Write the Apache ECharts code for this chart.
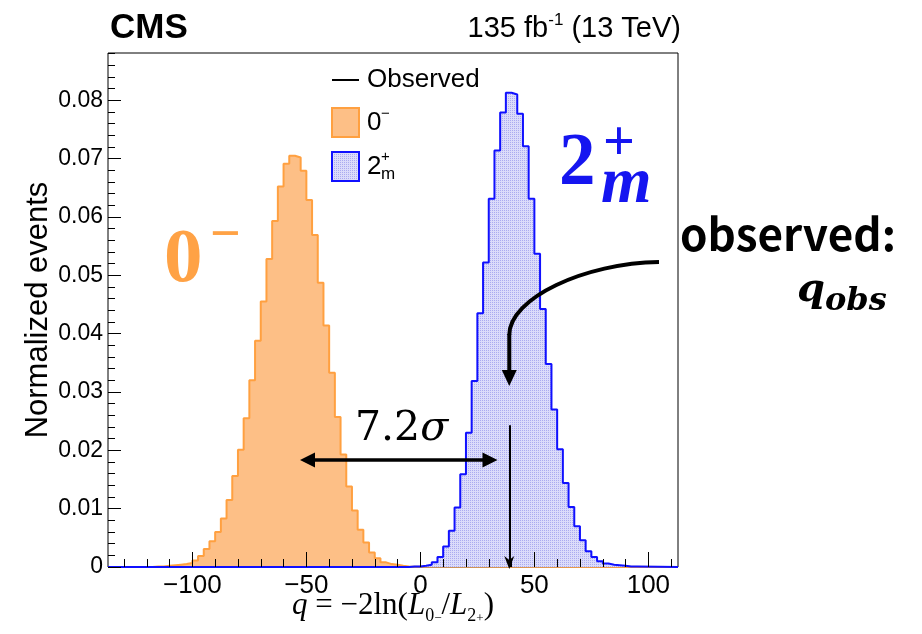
<!DOCTYPE html>
<html>
<head>
<meta charset="utf-8">
<script src="https://cdn.jsdelivr.net/npm/echarts@6/dist/echarts.min.js"></script>
<style>
html,body{margin:0;padding:0;background:#fff;}
#c{width:922px;height:634px;}
</style>
</head>
<body>
<div id="c"></div>
<script>
// ---------------- data ----------------
const binWidth = 2.5;
const pseudoScalarStart = -117.5;   // left edge of first listed 0- bin
const pseudoScalarValues = [0.0001,0.0001,0.0002,0.0003,0.0004,0.0005,0.0007,0.0011,0.0019,0.0031,
  0.0044,0.0060,0.0083,0.0115,0.0156,0.0201,0.0255,0.0320,0.0388,0.0455,
  0.0528,0.0593,0.0652,0.0691,0.0705,0.0702,0.0679,0.0629,0.0569,0.0487,
  0.0414,0.0333,0.0257,0.0193,0.0138,0.0097,0.0064,0.0042,0.0025,0.0015,
  0.0008,0.0005,0.0004,0.0002,0.0001];
const spin2Start = -5;              // left edge of first listed 2m+ bin
const spin2Values = [0.0001,0.0001,0.0002,0.0004,0.0008,0.0017,0.0035,0.0062,0.0102,0.0159,
  0.0230,0.0319,0.0435,0.0522,0.0631,0.0714,0.0779,0.0813,0.0810,0.0777,
  0.0721,0.0631,0.0537,0.0442,0.0348,0.0270,0.0202,0.0144,0.0103,0.0070,
  0.0046,0.0027,0.0017,0.0010,0.0006,0.0004,0.0003,0.0002,0.0001,0.0001];
const qObserved = 39;
const observedLineTop = 0.0243;
const xMin = -137, xMax = 113;
const yMin = 0, yMax = 0.0881;
const xMajorTicks = [-100, -50, 0, 50, 100];
const xMinorTicks = [-130,-120,-110,-90,-80,-70,-60,-40,-30,-20,-10,10,20,30,40,60,70,80,90,110];
const yMajorTicks = [0, 0.01, 0.02, 0.03, 0.04, 0.05, 0.06, 0.07, 0.08];
const yMinorTicks = [0.002,0.004,0.006,0.008,0.012,0.014,0.016,0.018,0.022,0.024,0.026,0.028,
  0.032,0.034,0.036,0.038,0.042,0.044,0.046,0.048,0.052,0.054,0.056,0.058,0.062,0.064,0.066,0.068,
  0.072,0.074,0.076,0.078,0.082,0.084,0.086,0.088];

// ---------------- helpers ----------------
function histPath(start, values) {
  const pts = [[xMin, 0], [start, 0]];
  values.forEach((v, i) => {
    const lo = start + i * binWidth, hi = lo + binWidth;
    pts.push([lo, v], [hi, v]);
  });
  const end = start + values.length * binWidth;
  pts.push([end, 0], [xMax, 0]);
  return pts;
}
function makePattern() {
  const c = document.createElement('canvas');
  c.width = 2; c.height = 2;
  const g = c.getContext('2d');
  g.fillStyle = '#dcdcfa'; g.fillRect(0, 0, 2, 2);
  g.fillStyle = '#ababf0'; g.fillRect(0, 0, 1, 1);
  return c;
}
const bluePattern = makePattern();
const SANS = '"Liberation Sans", Arial, sans-serif';
const SERIF = '"Liberation Serif", "Times New Roman", serif';
const DSERIF = '"DejaVu Serif", serif';
const ORANGE_FILL = '#fdbf86', ORANGE_LINE = '#ffa040', ORANGE_TEXT = '#ffa245';
const BLUE_LINE = '#1010ff', BLUE_TEXT = '#1515f0';

const chart = echarts.init(document.getElementById('c'), null, {renderer: 'canvas'});

const noLine = {show: false, onZero: false};
const option = {
  animation: false,
  backgroundColor: '#fff',
  grid: {left: 108, right: 244, top: 53, bottom: 67, containLabel: false, outerBoundsMode: 'none',
    show: true, borderColor: '#000', borderWidth: 1, backgroundColor: 'transparent'},
  xAxis: {
    type: 'value', min: xMin, max: xMax, position: 'bottom',
    axisLine: noLine, splitLine: {show: false}, axisTick: {show: false},
    axisLabel: {show: true, customValues: xMajorTicks, color: '#000', fontSize: 26, fontFamily: SANS, margin: 6,
      formatter: v => (v < 0 ? '\u2212' + Math.abs(v) : String(v))},
    name: '{i|q}{r| = \u22122ln(}{i|L}{s|0}{p|\u2212}{r|/}{i|L}{s|2}{p|+}{r|)}',
    nameLocation: 'middle', nameGap: 20, nameMoveOverlap: false,
    nameTextStyle: {
      rich: {
        i: {fontFamily: SERIF, fontStyle: 'italic', fontSize: 31, color: '#000', lineHeight: 38},
        r: {fontFamily: SERIF, fontSize: 31, color: '#000', lineHeight: 38},
        s: {fontFamily: SERIF, fontSize: 18, color: '#000', lineHeight: 18, verticalAlign: 'bottom'},
        p: {fontFamily: SERIF, fontSize: 13, color: '#000', lineHeight: 26, verticalAlign: 'bottom'}
      }
    }
  },
  yAxis: {
    type: 'value', min: yMin, max: yMax, position: 'left',
    axisLine: noLine, splitLine: {show: false}, axisTick: {show: false},
    axisLabel: {show: true, customValues: yMajorTicks, color: '#000', fontSize: 23, fontFamily: SANS, margin: 5,
      formatter: v => (v === 0 ? '0' : v.toFixed(2))},
    name: 'Normalized events', nameLocation: 'middle', nameGap: 54, nameRotate: 90, nameMoveOverlap: false,
    nameTextStyle: {fontFamily: SANS, fontSize: 31, color: '#000'}
  },
  series: [
    {
      id: 'ps', name: '0-', type: 'line',
      data: histPath(pseudoScalarStart, pseudoScalarValues),
      symbol: 'none', lineStyle: {color: ORANGE_LINE, width: 2},
      areaStyle: {color: ORANGE_FILL, opacity: 1}, silent: true, z: 2
    },
    {
      id: 'sp2', name: '2m+', type: 'line',
      data: histPath(spin2Start, spin2Values),
      symbol: 'none', lineStyle: {color: BLUE_LINE, width: 2},
      areaStyle: {color: {image: bluePattern, repeat: 'repeat'}, opacity: 1}, silent: true, z: 3,
      markLine: {
        silent: true, animation: false,
        symbol: ['none', 'none'],
        lineStyle: {color: '#000', width: 2, type: 'solid'},
        label: {show: false},
        data: [[{coord: [qObserved, observedLineTop]}, {coord: [qObserved, 0]}]]
      }
    },
    {
      id: 'frameTicks', name: 'ticks', type: 'line', data: [[xMin, 0]],
      symbol: 'none', lineStyle: {opacity: 0}, silent: true, z: 4
    }
  ]
};
chart.setOption(option);

// ---------------- frame ticks drawn as mark lines in data space ----------------
const toPx = (x, y) => chart.convertToPixel({seriesIndex: 1}, [x, y]);
const pxPerX = (toPx(10, 0)[0] - toPx(0, 0)[0]) / 10;
const pxPerY = (toPx(0, 0)[1] - toPx(0, 0.01)[1]) / 0.01;
const tickLines = [];
xMajorTicks.forEach(v => tickLines.push([{coord: [v, 0]}, {coord: [v, 15 / pxPerY]}]));
xMinorTicks.forEach(v => tickLines.push([{coord: [v, 0]}, {coord: [v, 8 / pxPerY]}]));
yMajorTicks.forEach(v => tickLines.push([{coord: [xMin, v]}, {coord: [xMin + 13 / pxPerX, v]}]));
yMinorTicks.forEach(v => tickLines.push([{coord: [xMin, v]}, {coord: [xMin + 7 / pxPerX, v]}]));
chart.setOption({series: [{id: 'frameTicks', markLine: {
  silent: true, animation: false, symbol: ['none', 'none'], z: 10,
  lineStyle: {color: '#000', width: 1, type: 'solid'}, label: {show: false},
  data: tickLines
}}]});

// ---------------- overlays: header, legend, annotations ----------------
const obsBase = toPx(qObserved, 0);
const obsX = obsBase[0], obsY = obsBase[1];

const g = [];
function T(text, x, y, font, fill, align, extra) {
  return {
    type: 'text', silent: true, z: 100,
    style: Object.assign({text: text, x: x, y: y, font: font, fill: fill,
      align: align || 'left', textAlign: align || 'left', verticalAlign: 'middle', textVerticalAlign: 'middle'}, extra || {})
  };
}

// header
g.push(T('CMS', 110, 28, 'bold 35px ' + SANS, '#000'));
g.push(T('{a|135 fb}{s|-1}{a| (13 TeV)}', 681, 29, '29px ' + SANS, '#000', 'right', {
  rich: {
    a: {fontFamily: SANS, fontSize: 29, lineHeight: 34, fill: '#000'},
    s: {fontFamily: SANS, fontSize: 17, lineHeight: 22, verticalAlign: 'top', fill: '#000'}
  }
}));
// legend
g.push({type: 'line', silent: true, z: 100, shape: {x1: 332, y1: 80, x2: 359, y2: 80}, style: {stroke: '#000', lineWidth: 2}});
g.push(T('Observed', 367, 80, '26px ' + SANS, '#000'));
g.push({type: 'rect', silent: true, z: 100, shape: {x: 332, y: 108, width: 27, height: 29},
  style: {fill: ORANGE_FILL, stroke: ORANGE_LINE, lineWidth: 2}});
g.push(T('0', 367, 123, '26px ' + SANS, '#000'));
g.push(T('\u2212', 381, 114, '15px ' + SANS, '#000'));
g.push({type: 'rect', silent: true, z: 100, shape: {x: 332, y: 152, width: 27, height: 29},
  style: {fill: {image: bluePattern, repeat: 'repeat'}, stroke: BLUE_LINE, lineWidth: 2}});
g.push(T('2', 367, 167, '26px ' + SANS, '#000'));
g.push(T('+', 381, 157, '15px ' + SANS, '#000'));
g.push(T('m', 381, 174, '17px ' + SANS, '#000'));

// big labels
g.push(T('0', 164, 261, 'bold 77px ' + SERIF, ORANGE_TEXT));
g.push(T('\u2212', 210, 237, 'bold 54px ' + SERIF, ORANGE_TEXT));
g.push(T('2', 559, 165, 'bold 73px ' + SERIF, BLUE_TEXT));
g.push(T('+', 603, 146, 'bold 56px ' + SERIF, BLUE_TEXT));
g.push(T('m', 601, 185, 'italic bold 65px ' + SERIF, BLUE_TEXT));

// separation arrow and label
g.push(T('{n|7.2}{g|\u03c3}', 355, 429, '41px ' + DSERIF, '#000', 'left', {
  rich: {
    n: {fontFamily: DSERIF, fontSize: 41, fill: '#000'},
    g: {fontFamily: DSERIF, fontSize: 41, fontStyle: 'italic', fill: '#000'}
  }
}));
g.push({type: 'line', silent: true, z: 100, shape: {x1: 312, y1: 460, x2: 486, y2: 460}, style: {stroke: '#000', lineWidth: 3.5}});
g.push({type: 'polygon', silent: true, z: 100, shape: {points: [[300, 460], [315, 452.5], [315, 467.5]]}, style: {fill: '#000'}});
g.push({type: 'polygon', silent: true, z: 100, shape: {points: [[497.5, 460], [482.5, 452.5], [482.5, 467.5]]}, style: {fill: '#000'}});

// arrow head of the observed line
g.push({type: 'polygon', silent: true, z: 100,
  shape: {points: [[obsX, obsY + 2], [obsX - 5, obsY - 11], [obsX, obsY - 7], [obsX + 5, obsY - 11]]}, style: {fill: '#000'}});

// observed annotation
g.push(T('observed:', 680, 234, 'bold 44px "Noto Sans CJK SC", "Noto Sans", sans-serif', '#000'));
g.push(T('q', 797, 291, 'italic bold 40px ' + DSERIF, '#000'));
g.push(T('obs', 825, 302, 'italic bold 32px ' + DSERIF, '#000'));
g.push({type: 'bezierCurve', silent: true, z: 100,
  shape: {x1: 659, y1: 262, cpx1: 585, cpy1: 263, cpx2: obsX, cpy2: 298, x2: obsX, y2: 335},
  style: {stroke: '#000', lineWidth: 4, fill: null}});
g.push({type: 'line', silent: true, z: 100, shape: {x1: obsX, y1: 334, x2: obsX, y2: 374}, style: {stroke: '#000', lineWidth: 4}});
g.push({type: 'polygon', silent: true, z: 100, shape: {points: [[obsX - 7.5, 370], [obsX + 7.5, 370], [obsX, 386]]}, style: {fill: '#000'}});

chart.setOption({graphic: {elements: g}});
</script>
</body>
</html>
